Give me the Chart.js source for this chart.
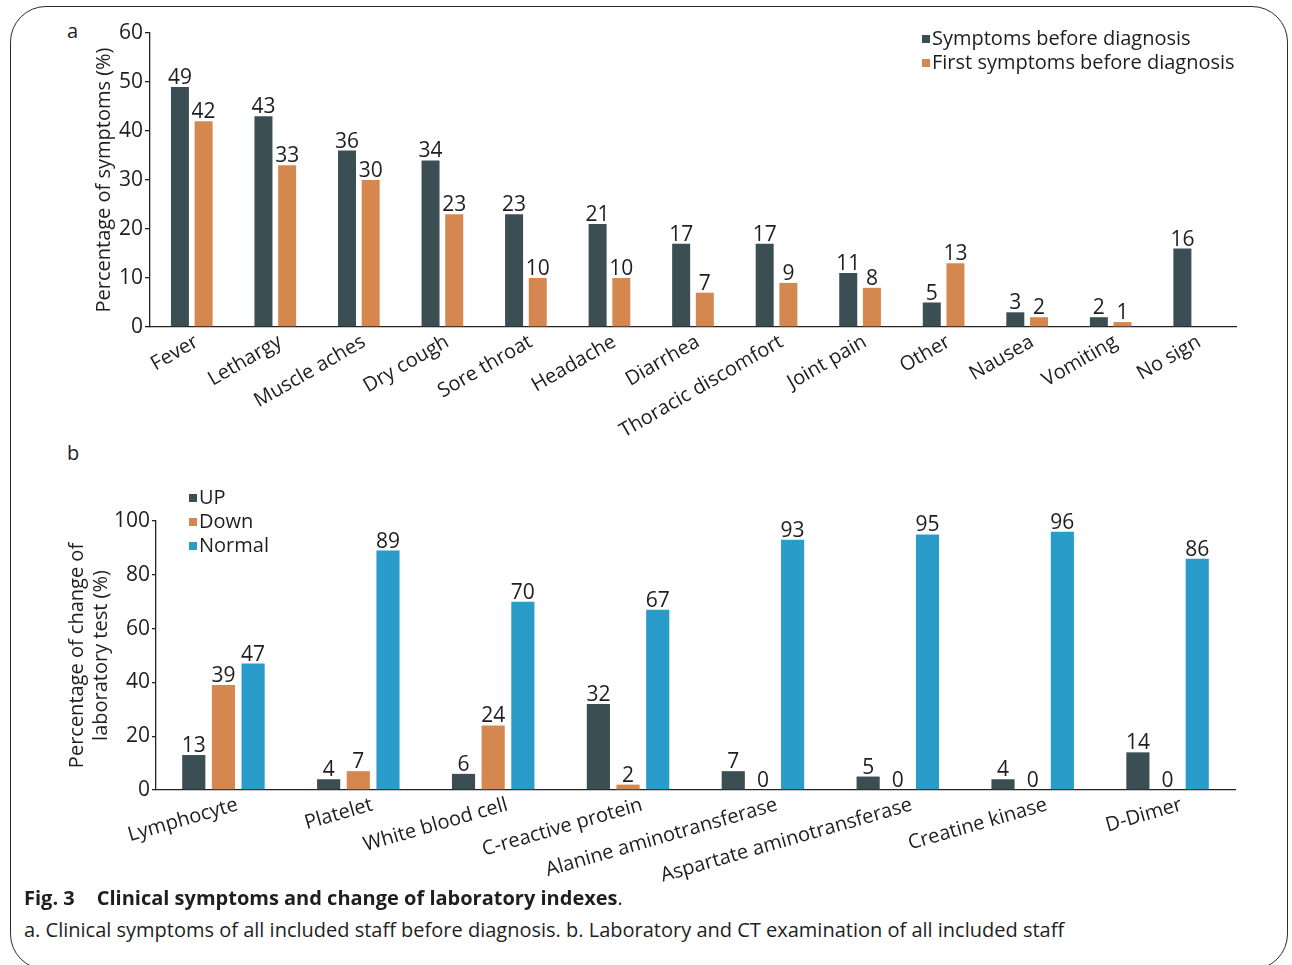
<!DOCTYPE html>
<html>
<head>
<meta charset="utf-8">
<script src="https://cdn.jsdelivr.net/npm/chart.js@4.4.1/dist/chart.umd.min.js"></script>
<style>
  html, body { margin: 0; padding: 0; background: #fff; }
  body { width: 1292px; height: 965px; position: relative; overflow: hidden; font-family: "Open Sans", "Noto Sans", sans-serif; color: #1e1e1e; }
  .frame { position: absolute; left: 10px; top: 6px; width: 1278px; height: 964px; border: 1.3px solid #2b2b2b; border-radius: 36px; box-sizing: border-box; }
  .panel { position: absolute; font-size: 20px; }
  #wrapA { position: absolute; left: 0; top: 0; width: 1292px; height: 450px; }
  #wrapB { position: absolute; left: 0; top: 440px; width: 1292px; height: 460px; }
  .cap1 { position: absolute; left: 24px; top: 884px; font-size: 20px; font-weight: 700; white-space: nowrap; }
  .cap1 .gap { display: inline-block; width: 22px; }
  .cap1 .dot { font-weight: 400; }
  .cap2 { position: absolute; left: 24px; top: 916px; font-size: 20px; white-space: nowrap; }
</style>
</head>
<body>
<div class="frame"></div>
<div class="panel" style="left:67px; top:17px;">a</div>
<div class="panel" style="left:67px; top:439px;">b</div>
<div id="wrapA"><canvas id="chartA" width="1292" height="450"></canvas></div>
<div id="wrapB"><canvas id="chartB" width="1292" height="460"></canvas></div>
<div class="cap1">Fig. 3<span class="gap"></span>Clinical symptoms and change of laboratory indexes<span class="dot">.</span></div>
<div class="cap2">a. Clinical symptoms of all included staff before diagnosis. b. Laboratory and CT examination of all included staff</div>

<script>
// Panel a: symptoms before diagnosis (%)
const symptomCategories = ['Fever', 'Lethargy', 'Muscle aches', 'Dry cough', 'Sore throat', 'Headache',
  'Diarrhea', 'Thoracic discomfort', 'Joint pain', 'Other', 'Nausea', 'Vomiting', 'No sign'];
const symptomsBefore = [49, 43, 36, 34, 23, 21, 17, 17, 11, 5, 3, 2, 16];
const firstSymptoms = [42, 33, 30, 23, 10, 10, 7, 9, 8, 13, 2, 1, null];
const symptomTicks = [0, 10, 20, 30, 40, 50, 60];

// Panel b: change of laboratory indexes (%)
const labCategories = ['Lymphocyte', 'Platelet', 'White blood cell', 'C-reactive protein',
  'Alanine aminotransferase', 'Aspartate aminotransferase', 'Creatine kinase', 'D-Dimer'];
const labUp = [13, 4, 6, 32, 7, 5, 4, 14];
const labDown = [39, 7, 24, 2, 0, 0, 0, 0];
const labNormal = [47, 89, 70, 67, 93, 95, 96, 86];
const labTicks = [0, 20, 40, 60, 80, 100];

const DARK = '#3b4e54';
const ORANGE = '#d4884f';
const BLUE = '#2a9cc9';
const INK = '#1e1e1e';
const FONT = '"Open Sans", "Noto Sans", sans-serif';

// value labels above every bar
const valueLabels = {
  id: 'valueLabels',
  afterDatasetsDraw(chart) {
    const ctx = chart.ctx;
    ctx.save();
    ctx.font = '21px ' + FONT;
    ctx.fillStyle = INK;
    ctx.textAlign = 'center';
    ctx.textBaseline = 'alphabetic';
    chart.data.datasets.forEach((ds, i) => {
      const meta = chart.getDatasetMeta(i);
      meta.data.forEach((bar, j) => {
        const v = ds.data[j];
        if (v === null || v === undefined) return;
        ctx.fillText(String(v), bar.x, bar.y - 3);
      });
    });
    ctx.restore();
  }
};

// stacked legend with small square markers
const boxLegend = {
  id: 'boxLegend',
  afterDraw(chart, args, opts) {
    const ctx = chart.ctx;
    ctx.save();
    ctx.font = '20px ' + FONT;
    ctx.textBaseline = 'middle';
    ctx.textAlign = 'left';
    chart.data.datasets.forEach((ds, i) => {
      const y = opts.y + i * opts.step;
      ctx.fillStyle = ds.backgroundColor;
      ctx.fillRect(opts.x, y - 4, 8, 8);
      ctx.fillStyle = INK;
      ctx.fillText(ds.label, opts.x + 10, y);
    });
    ctx.restore();
  }
};

function fixedTicks(values) {
  return function (scale) {
    scale.ticks = values.map(v => ({ value: v }));
  };
}

new Chart(document.getElementById('chartA'), {
  type: 'bar',
  data: {
    labels: symptomCategories,
    datasets: [
      { label: 'Symptoms before diagnosis', data: symptomsBefore, backgroundColor: DARK },
      { label: 'First symptoms before diagnosis', data: firstSymptoms, backgroundColor: ORANGE }
    ]
  },
  options: {
    responsive: false,
    animation: false,
    layout: { padding: { left: 92, right: 56, top: 33, bottom: 0 } },
    datasets: { bar: { categoryPercentage: 0.567, barPercentage: 0.76 } },
    plugins: {
      legend: { display: false },
      tooltip: { enabled: false },
      boxLegend: { x: 922, y: 39, step: 24 }
    },
    scales: {
      x: {
        afterFit(s) { s.height = 123; },
        grid: { display: false, drawTicks: false },
        border: { display: true, color: '#222', width: 1.3 },
        ticks: { autoSkip: false, minRotation: 30, maxRotation: 30, padding: 3, labelOffset: 5, color: INK, font: { size: 20, family: FONT } }
      },
      y: {
        min: 0, max: 60,
        afterFit(s) { s.width = 58; },
        afterBuildTicks: fixedTicks(symptomTicks),
        grid: { drawOnChartArea: false, drawTicks: true, tickLength: 5, color: '#222', lineWidth: 1.3 },
        border: { display: true, color: '#222', width: 1.3 },
        ticks: { padding: 2, color: INK, font: { size: 21, family: FONT } },
        title: { display: true, text: 'Percentage of symptoms (%)', padding: 0, color: INK, font: { size: 20, family: FONT } }
      }
    }
  },
  plugins: [valueLabels, boxLegend]
});

new Chart(document.getElementById('chartB'), {
  type: 'bar',
  data: {
    labels: labCategories,
    datasets: [
      { label: 'UP', data: labUp, backgroundColor: DARK },
      { label: 'Down', data: labDown, backgroundColor: ORANGE },
      { label: 'Normal', data: labNormal, backgroundColor: BLUE }
    ]
  },
  options: {
    responsive: false,
    animation: false,
    layout: { padding: { left: 65, right: 57, top: 81, bottom: 0 } },
    datasets: { bar: { categoryPercentage: 0.66, barPercentage: 0.78 } },
    plugins: {
      legend: { display: false },
      tooltip: { enabled: false },
      boxLegend: { x: 189, y: 58, step: 24 }
    },
    scales: {
      x: {
        afterFit(s) { s.height = 110; },
        grid: { display: false, drawTicks: false },
        border: { display: true, color: '#222', width: 1.3 },
        ticks: { autoSkip: false, minRotation: 16, maxRotation: 16, padding: 3, labelOffset: 14, color: INK, font: { size: 20, family: FONT } }
      },
      y: {
        min: 0, max: 100,
        afterFit(s) { s.width = 91; },
        afterBuildTicks: fixedTicks(labTicks),
        grid: { drawOnChartArea: false, drawTicks: true, tickLength: 4, color: '#222', lineWidth: 1.3 },
        border: { display: true, color: '#222', width: 1.3 },
        ticks: { padding: 2, color: INK, font: { size: 21, family: FONT } },
        title: { display: true, text: ['Percentage of change of', 'laboratory test (%)'], padding: 0, color: INK, font: { size: 20, family: FONT } }
      }
    }
  },
  plugins: [valueLabels, boxLegend]
});
</script>
</body>
</html>
